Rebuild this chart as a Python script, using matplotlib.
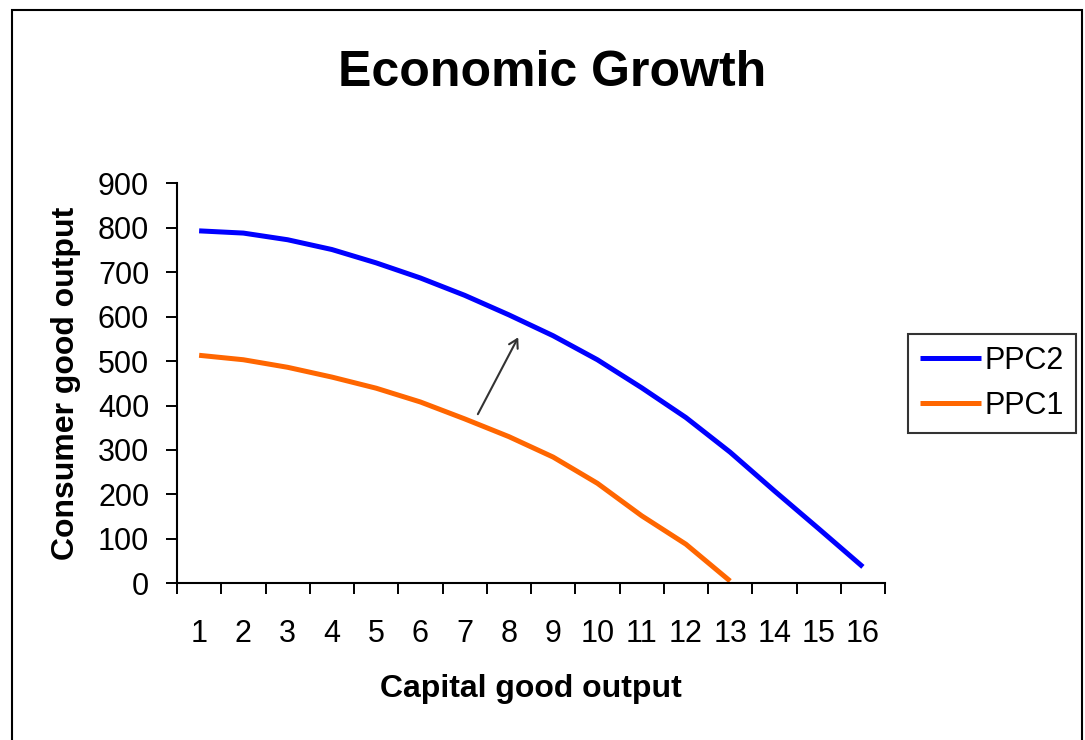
import matplotlib
matplotlib.use("Agg")
import matplotlib.pyplot as plt
from matplotlib.patches import Rectangle

categories = list(range(1, 17))
ppc2 = [793, 788, 773, 751, 721, 687, 648, 604, 557, 503, 440, 373, 295, 208, 123, 37]
ppc1 = [513, 503, 486, 464, 439, 408, 370, 330, 284, 225, 152, 88, 5]
y_ticks = [0, 100, 200, 300, 400, 500, 600, 700, 800, 900]

plt.rcParams['font.family'] = ['Liberation Sans', 'DejaVu Sans']

W, H = 1085, 740
fig = plt.figure(figsize=(W / 100, H / 100), dpi=100)
ax = fig.add_axes([177 / W, 1 - 583.3 / H, (885 - 177) / W, (583.3 - 183.3) / H])

x2 = categories[:len(ppc2)]
x1 = categories[:len(ppc1)]
l2, = ax.plot(x2, ppc2, color='#0000FF', lw=3.6, solid_joinstyle='round',
              solid_capstyle='butt', label='PPC2')
l1, = ax.plot(x1, ppc1, color='#FF6600', lw=3.6, solid_joinstyle='round',
              solid_capstyle='butt', label='PPC1')

ax.set_xlim(0.5, len(categories) + 0.5)
ax.set_ylim(0, 900)
ax.set_yticks(y_ticks)
ax.set_yticklabels([str(v) for v in y_ticks])

# category boundaries as ticks, labels at category centers
ax.set_xticks([c - 0.5 for c in categories] + [categories[-1] + 0.5])
ax.set_xticklabels([])
ax.set_xticks(categories, minor=True)
ax.set_xticklabels([str(c) for c in categories], minor=True)
ax.tick_params(axis='x', which='major', direction='out', length=8, width=1.4, color='black')
ax.tick_params(axis='x', which='minor', length=0, pad=26, labelsize=22)
ax.tick_params(axis='y', direction='out', length=8, width=1.4, pad=12, labelsize=22)

for s in ['top', 'right']:
    ax.spines[s].set_visible(False)
for s in ['left', 'bottom']:
    ax.spines[s].set_linewidth(1.5)
    ax.spines[s].set_color('black')

ax.set_xlabel('Capital good output', fontsize=23, fontweight='bold', labelpad=18)
ax.set_ylabel('Consumer good output', fontsize=23, fontweight='bold', labelpad=12)

ax.annotate('', xy=(8.24, 559), xytext=(7.27, 375),
            arrowprops=dict(arrowstyle='->,head_length=0.6,head_width=0.35',
                            color='#333333', lw=1.5))

fig.text(552 / W, 1 - 73 / H, 'Economic Growth', fontsize=36, fontweight='bold',
         ha='center', va='center')

leg = fig.legend(handles=[l2, l1], loc='center left',
                 bbox_to_anchor=(908 / W, 1 - 383.5 / H), fontsize=22,
                 frameon=True, fancybox=False, edgecolor='black',
                 handlelength=2.0, handletextpad=0.1, borderpad=0.4,
                 labelspacing=0.5, borderaxespad=0)
leg.get_frame().set_linewidth(1.5)

fig.patches.append(Rectangle((12 / W, -0.05), (1082 - 12) / W, 1.05 - 10 / H,
                             transform=fig.transFigure, fill=False,
                             edgecolor='black', lw=1.5))

fig.savefig('out.png', dpi=100)
